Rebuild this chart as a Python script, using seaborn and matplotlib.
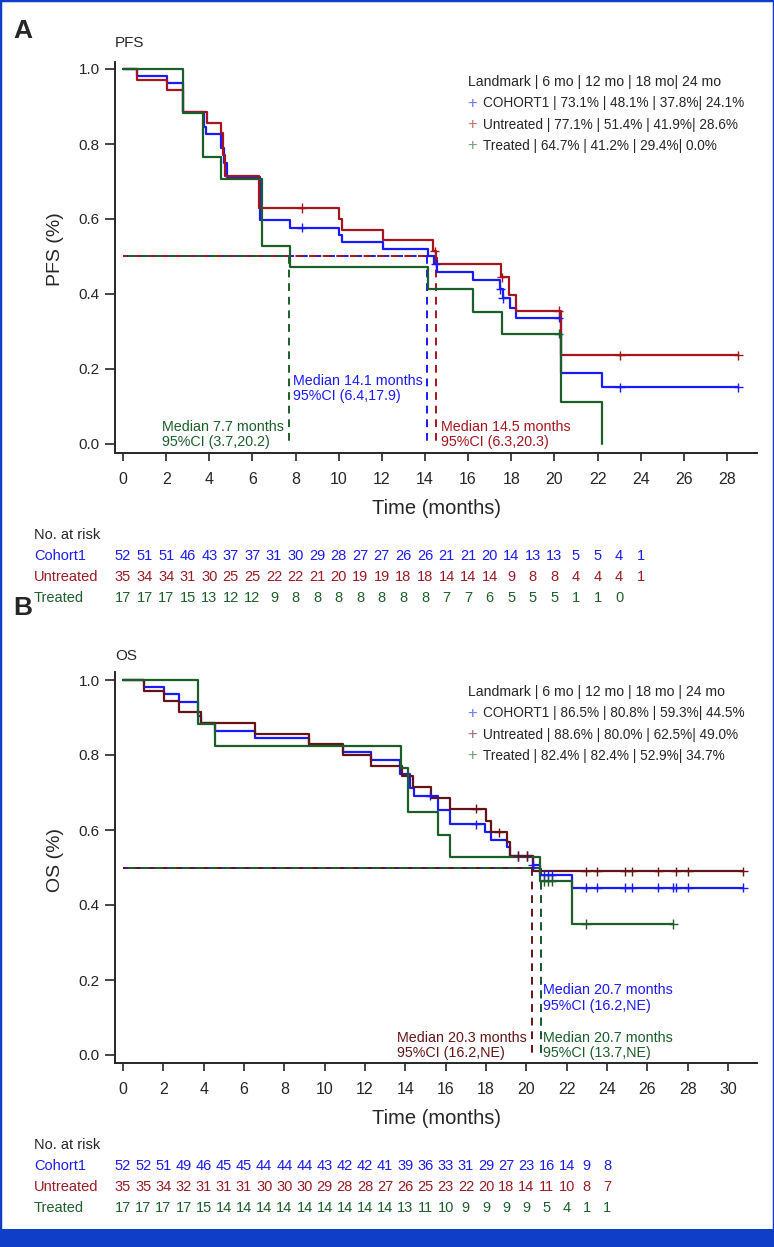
import numpy as np
import pandas as pd
import matplotlib
matplotlib.use("Agg")
import matplotlib.pyplot as plt
import matplotlib.transforms as mtransforms
from matplotlib.patches import Rectangle
import seaborn as sns

W, H = 774, 1247
GROUPS = ["Cohort1", "Untreated", "Treated"]

# ---- PFS curves (step times / survival) ----
pfs_cohort_t = [0, 0.63, 2.02, 2.8, 3.75, 3.85, 4.53, 4.68, 4.8, 6.35, 7.74, 10.03, 10.14,
                12.04, 14.15, 14.42, 14.54, 16.21, 17.5, 17.6, 17.94, 18.22, 20.3, 22.22, 28.53]
pfs_cohort_s = [1.0, 0.981, 0.962, 0.885, 0.846, 0.827, 0.788, 0.75, 0.712, 0.596, 0.577, 0.558, 0.538,
                0.519, 0.5, 0.481, 0.459, 0.436, 0.412, 0.388, 0.362, 0.337, 0.19, 0.151, 0.151]
pfs_untr_t = [0, 0.63, 2.02, 2.77, 3.88, 4.53, 4.65, 4.73, 6.32, 10.03, 10.14, 12.04, 14.39,
              14.5, 14.58, 17.52, 17.91, 18.22, 20.29, 28.53]
pfs_untr_s = [1.0, 0.971, 0.943, 0.886, 0.857, 0.829, 0.771, 0.714, 0.629, 0.6, 0.571, 0.543, 0.514,
              0.497, 0.48, 0.444, 0.397, 0.355, 0.236, 0.236]
pfs_trt_t = [0, 2.8, 3.72, 4.53, 6.43, 7.74, 14.15, 16.21, 17.56, 20.3, 22.22]
pfs_trt_s = [1.0, 0.882, 0.765, 0.706, 0.529, 0.471, 0.412, 0.353, 0.294, 0.111, 0.0]
pfs_cens = {"Cohort1": [8.28, 14.5, 17.5, 17.6, 20.2, 23.04, 28.53],
            "Untreated": [8.28, 14.45, 17.55, 20.2, 23.04, 28.53],
            "Treated": [20.2]}
pfs_median = [14.1, 14.5, 7.7]

# ---- OS curves ----
os_cohort_t = [0, 1.04, 2.03, 2.79, 3.7, 3.87, 4.56, 6.54, 9.22, 10.89, 12.28, 13.73, 14.23, 14.43,
               15.6, 16.21, 17.95, 18.23, 19.05, 19.19, 20.31, 20.67, 22.24, 30.75]
os_cohort_s = [1.0, 0.981, 0.962, 0.942, 0.904, 0.885, 0.865, 0.846, 0.827, 0.808, 0.788, 0.75, 0.712,
               0.692, 0.654, 0.615, 0.594, 0.573, 0.556, 0.531, 0.507, 0.48, 0.446, 0.446]
os_untr_t = [0, 1.04, 2.03, 2.79, 3.87, 6.54, 9.22, 10.89, 12.28, 13.81, 14.39, 15.27, 16.21,
             18.0, 18.23, 19.05, 19.19, 20.31, 30.75]
os_untr_s = [1.0, 0.971, 0.943, 0.914, 0.886, 0.857, 0.829, 0.8, 0.771, 0.743, 0.714, 0.686, 0.657,
             0.625, 0.594, 0.569, 0.531, 0.49, 0.49]
os_trt_t = [0, 3.73, 4.56, 13.78, 14.15, 15.6, 16.21, 20.67, 22.24, 27.28]
os_trt_s = [1.0, 0.882, 0.824, 0.765, 0.647, 0.588, 0.529, 0.464, 0.349, 0.349]
os_cens = {"Cohort1": [15.22, 17.5, 19.58, 20.01, 20.31, 20.87, 21.09, 21.25, 22.96, 23.52, 24.89,
                       25.22, 26.54, 27.28, 27.42, 28.03, 30.75],
           "Untreated": [17.5, 18.62, 19.58, 20.01, 22.96, 23.52, 24.89, 25.22, 26.54, 27.42,
                         28.03, 30.75],
           "Treated": [20.87, 21.09, 21.25, 22.96, 27.28]}
os_median = [20.7, 20.3, 20.7]

# ---- landmark legend and median labels ----
pfs_landmark = ["Landmark | 6 mo | 12 mo | 18 mo| 24 mo",
                "COHORT1 | 73.1% | 48.1% | 37.8%| 24.1%",
                "Untreated | 77.1% | 51.4% | 41.9%| 28.6%",
                "Treated | 64.7% | 41.2% | 29.4%| 0.0%"]
os_landmark = ["Landmark | 6 mo | 12 mo | 18 mo | 24 mo",
               "COHORT1 | 86.5% | 80.8% | 59.3%| 44.5%",
               "Untreated | 88.6% | 80.0% | 62.5%| 49.0%",
               "Treated | 82.4% | 82.4% | 52.9%| 34.7%"]
pfs_median_txt = ["Median 14.1 months\n95%CI (6.4,17.9)",
                  "Median 14.5 months\n95%CI (6.3,20.3)",
                  "Median 7.7 months\n95%CI (3.7,20.2)"]
os_median_txt = ["Median 20.7 months\n95%CI (16.2,NE)",
                 "Median 20.3 months\n95%CI (16.2,NE)",
                 "Median 20.7 months\n95%CI (13.7,NE)"]

# ---- number at risk (monthly) ----
pfs_risk = {"Cohort1": [52, 51, 51, 46, 43, 37, 37, 31, 30, 29, 28, 27, 27, 26, 26, 21, 21, 20, 14, 13, 13, 5, 5, 4, 1],
            "Untreated": [35, 34, 34, 31, 30, 25, 25, 22, 22, 21, 20, 19, 19, 18, 18, 14, 14, 14, 9, 8, 8, 4, 4, 4, 1],
            "Treated": [17, 17, 17, 15, 13, 12, 12, 9, 8, 8, 8, 8, 8, 8, 8, 7, 7, 6, 5, 5, 5, 1, 1, 0]}
os_risk = {"Cohort1": [52, 52, 51, 49, 46, 45, 45, 44, 44, 44, 43, 42, 42, 41, 39, 36, 33, 31, 29, 27, 23, 16, 14, 9, 8],
           "Untreated": [35, 35, 34, 32, 31, 31, 31, 30, 30, 30, 29, 28, 28, 27, 26, 25, 23, 22, 20, 18, 14, 11, 10, 8, 7],
           "Treated": [17, 17, 17, 17, 15, 14, 14, 14, 14, 14, 14, 14, 14, 14, 13, 11, 10, 9, 9, 9, 9, 5, 4, 1, 1]}

BLUE = "#1a1aff"
PFS_RED = "#a5151d"
OS_RED = "#641414"
GREEN = "#1b5e2a"
TXT = {"Cohort1": "#1c1cf0", "Untreated": "#9b1b24", "Treated": "#1d5e2b"}
FRAME = "#0f3fc8"

sns.set_style("ticks")
plt.rcParams["font.family"] = ["Liberation Sans", "DejaVu Sans"]

fig = plt.figure(figsize=(W / 100, H / 100), dpi=100)


def fx(x):
    return x / W


def fy(y):
    return 1 - y / H


def panel(top, bottom, x0, ppm, y0px, curves, cens, medians, med_txt, med_pos,
          landmark, leg_y, title, letter, letter_y, title_y, ylabel, xmax_tick, risk, risk_y, colors):
    left, right = 114.5, 757
    ax = fig.add_axes([fx(left), fy(bottom), (right - left) / W, (bottom - top) / H])
    ax.set_xlim((left - x0) / ppm, (right - x0) / ppm)
    ax.set_ylim(-(bottom - y0px) / 375, 1 + (y0px - 375 - top) / 375)

    rows = []
    for g, (t, s) in zip(GROUPS, curves):
        rows += [{"time": a, "surv": b, "group": g} for a, b in zip(t, s)]
    df = pd.DataFrame(rows)
    pal = dict(zip(GROUPS, colors))

    # median reference lines (dash offsets so the overlapping colours alternate)
    for k, (m, c) in enumerate(zip(medians, colors)):
        ax.plot([0, m], [0.5, 0.5], color=c, lw=1.4, ls=(k * 2.3, (4, 3)), zorder=2)
        ax.plot([m, m], [0.5, 0], color=c, lw=1.4, ls=(0, (4, 3)), zorder=2)

    sns.lineplot(data=df, x="time", y="surv", hue="group", palette=pal, hue_order=GROUPS,
                 drawstyle="steps-post", estimator=None, sort=False, legend=False,
                 linewidth=1.6, ax=ax, zorder=3)

    crow = []
    for g, (t, s) in zip(GROUPS, curves):
        for c in cens[g]:
            i = np.searchsorted(t, c, side="right") - 1
            crow.append({"time": c, "surv": s[i], "group": g})
    cdf = pd.DataFrame(crow)
    sns.scatterplot(data=cdf, x="time", y="surv", hue="group", palette=pal, hue_order=GROUPS,
                    marker="+", s=45, linewidth=1.0, legend=False, ax=ax, zorder=4)

    for txt, c, (xx, yy, ha) in zip(med_txt, colors, med_pos):
        ax.text(xx, yy, txt, color=c, ha=ha, va="center", fontsize=10.3, linespacing=1.1,
                multialignment="left")

    ax.set_xticks(np.arange(0, xmax_tick + 1, 2))
    ax.set_yticks(np.arange(0, 1.01, 0.2))
    ax.set_yticklabels([f"{v:.1f}" for v in np.arange(0, 1.01, 0.2)])
    ax.tick_params(axis="x", direction="out", length=6, width=1.2, labelsize=11.5, pad=8)
    ax.tick_params(axis="y", direction="out", length=7, width=1.2, labelsize=11)
    for sp in ["top", "right"]:
        ax.spines[sp].set_visible(False)
    for sp in ["left", "bottom"]:
        ax.spines[sp].set_linewidth(1.4)
    ax.set_xlabel("")
    ax.set_ylabel("")

    fig.text(fx(437), fy(bottom + 55), "Time (months)", ha="center", va="center", fontsize=14.5)
    fig.text(fx(55), fy((top + bottom) / 2 - 8), ylabel, rotation=90, ha="center", va="center", fontsize=14)
    fig.text(fx(115), fy(title_y), title, ha="left", va="center", fontsize=11)
    fig.text(fx(13), fy(letter_y), letter, ha="left", va="center", fontsize=19, fontweight="bold")

    # landmark legend
    fig.text(fx(468), fy(leg_y), landmark[0], ha="left", va="center", fontsize=10.1)
    for k, (line, c) in enumerate(zip(landmark[1:], colors)):
        yy = leg_y + 21.3 * (k + 1)
        fig.text(fx(467), fy(yy), "+", color=c, alpha=0.6, ha="left", va="center", fontsize=12)
        fig.text(fx(483), fy(yy), line, ha="left", va="center", fontsize=9.8)

    # risk table
    tr = mtransforms.blended_transform_factory(ax.transData, fig.transFigure)
    fig.text(fx(34), fy(risk_y), "No. at risk", ha="left", va="center", fontsize=10.5)
    for k, g in enumerate(GROUPS):
        yy = risk_y + 21 * (k + 1)
        fig.text(fx(34), fy(yy), g, color=TXT[g], ha="left", va="center", fontsize=10.5)
        for m, n in enumerate(risk[g]):
            ax.text(m, fy(yy), str(n), color=TXT[g], ha="center", va="center", fontsize=10.5,
                    transform=tr, clip_on=False)
    return ax


panel(top=62, bottom=453, x0=123, ppm=21.57, y0px=444,
      curves=[(pfs_cohort_t, pfs_cohort_s), (pfs_untr_t, pfs_untr_s), (pfs_trt_t, pfs_trt_s)],
      cens=pfs_cens, medians=pfs_median, med_txt=pfs_median_txt,
      med_pos=[(7.9, 0.149, "left"), (14.73, 0.025, "left"), (7.45, 0.025, "right")],
      landmark=pfs_landmark, leg_y=82, title="PFS", letter="A", letter_y=31, title_y=43,
      ylabel="PFS (%)", xmax_tick=28, risk=pfs_risk, risk_y=535,
      colors=[BLUE, PFS_RED, GREEN])

panel(top=672, bottom=1063, x0=123, ppm=20.17, y0px=1055,
      curves=[(os_cohort_t, os_cohort_s), (os_untr_t, os_untr_s), (os_trt_t, os_trt_s)],
      cens=os_cens, medians=os_median, med_txt=os_median_txt,
      med_pos=[(20.84, 0.152, "left"), (20.03, 0.025, "right"), (20.82, 0.025, "left")],
      landmark=os_landmark, leg_y=692, title="OS", letter="B", letter_y=608, title_y=656,
      ylabel="OS (%)", xmax_tick=30, risk=os_risk, risk_y=1145,
      colors=[BLUE, OS_RED, GREEN])

# frame and bottom bar
fig.patches.append(Rectangle((0, 0), 1, 1, transform=fig.transFigure, fill=False,
                             edgecolor=FRAME, linewidth=2.5))
fig.patches.append(Rectangle((0, 0), 1, fy(1229), transform=fig.transFigure,
                             facecolor=FRAME, edgecolor="none"))

fig.savefig("out.png", dpi=100)
